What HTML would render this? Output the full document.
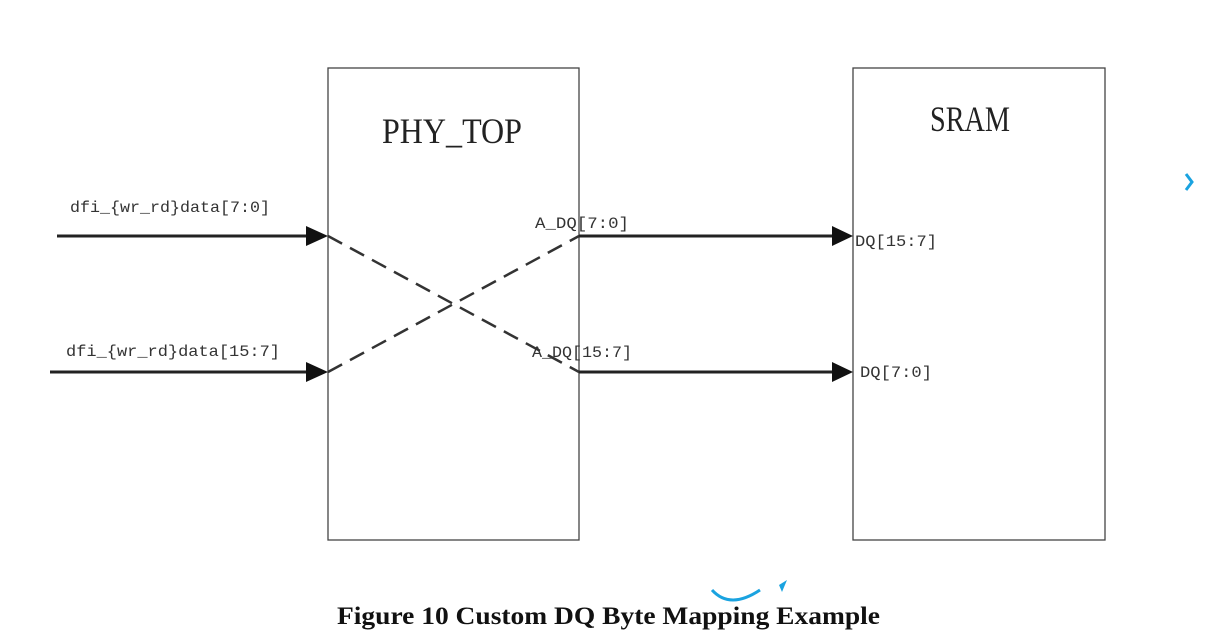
<!DOCTYPE html>
<html><head><style>body{margin:0;background:#fff;width:1212px;height:632px;overflow:hidden}</style></head>
<body>
<svg width="1212" height="632" viewBox="0 0 1212 632" xmlns="http://www.w3.org/2000/svg">
<rect x="328" y="68" width="251" height="472" fill="none" stroke="#444" stroke-width="1.3"/>
<rect x="853" y="68" width="252" height="472" fill="none" stroke="#444" stroke-width="1.3"/>
<g font-family="Liberation Serif, serif" fill="#222">
<text x="452" y="143" font-size="36" text-anchor="middle" textLength="140" lengthAdjust="spacingAndGlyphs">PHY_TOP</text>
<text x="970" y="131" font-size="36" text-anchor="middle" textLength="80" lengthAdjust="spacingAndGlyphs">SRAM</text>
</g>
<g stroke="#222" stroke-width="3">
<line x1="57" y1="236" x2="310" y2="236"/>
<line x1="50" y1="372" x2="310" y2="372"/>
<line x1="579" y1="236" x2="836" y2="236"/>
<line x1="579" y1="372" x2="836" y2="372"/>
</g>
<g fill="#111">
<polygon points="306,226 328,236 306,246"/>
<polygon points="306,362 328,372 306,382"/>
<polygon points="832,226 853,236 832,246"/>
<polygon points="832,362 853,372 832,382"/>
</g>
<g stroke="#333" stroke-width="2.5" stroke-dasharray="16,9" fill="none">
<line x1="328" y1="236" x2="579" y2="372"/>
<line x1="328" y1="372" x2="579" y2="236"/>
</g>
<g font-family="Liberation Mono, monospace" font-size="16" fill="#333">
<text x="70" y="212" textLength="200" lengthAdjust="spacingAndGlyphs">dfi_{wr_rd}data[7:0]</text>
<text x="66" y="356" textLength="214" lengthAdjust="spacingAndGlyphs">dfi_{wr_rd}data[15:7]</text>
<text x="535" y="228" textLength="94" lengthAdjust="spacingAndGlyphs">A_DQ[7:0]</text>
<text x="532" y="357" textLength="100" lengthAdjust="spacingAndGlyphs">A_DQ[15:7]</text>
<text x="855" y="246" textLength="82" lengthAdjust="spacingAndGlyphs">DQ[15:7]</text>
<text x="860" y="377" textLength="72" lengthAdjust="spacingAndGlyphs">DQ[7:0]</text>
</g>
<text x="337" y="624" font-family="Liberation Serif, serif" font-weight="bold" font-size="25" textLength="543" lengthAdjust="spacingAndGlyphs" fill="#111">Figure 10 Custom DQ Byte Mapping Example</text>
<path d="M1186 174 L1192 182 L1186 190" stroke="#1aa3e0" stroke-width="3" fill="none"/>
<path d="M712 590 Q730 610 760 590" stroke="#1aa3e0" stroke-width="3" fill="none"/>
<path d="M779 585 L787 580 L782 592 Z" fill="#1aa3e0"/>
</svg>
</body></html>
